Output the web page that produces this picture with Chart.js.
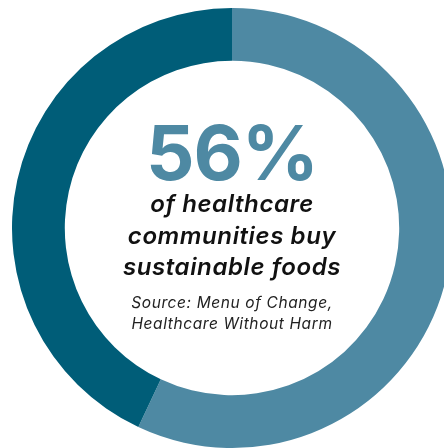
<!DOCTYPE html>
<html>
<head>
<meta charset="utf-8">
<script src="https://cdn.jsdelivr.net/npm/chart.js@4/dist/chart.umd.min.js"></script>
<style>
  html, body { margin: 0; padding: 0; background: #ffffff; width: 444px; height: 448px; overflow: hidden; position: relative; }
  #wrap { position: absolute; left: 12px; top: 8px; width: 440px; height: 440px; }
  .txt { position: absolute; left: 0; width: 464px; text-align: center; }
  #big { top: 107px; font-family: Inter, "Open Sans", sans-serif; font-weight: 700; font-size: 76px; color: #4e89a3; letter-spacing: -1px; line-height: 90px; }
  #desc { top: 188px; font-family: Inter, "Open Sans", sans-serif; font-weight: 600; font-style: italic; font-size: 24px; line-height: 31.5px; color: #111; letter-spacing: 0.6px; }
  #src { top: 292px; font-family: Inter, "Open Sans", sans-serif; font-style: italic; font-weight: 400; font-size: 15.5px; line-height: 21px; color: #222; letter-spacing: 0.6px; }
</style>
</head>
<body>
<div id="wrap"><canvas id="c"></canvas></div>
<div class="txt" id="big"></div>
<div class="txt" id="desc"></div>
<div class="txt" id="src"></div>
<script>
const categories = ["Buy sustainable foods", "Do not"];
const values = [57, 43];
const colors = ["#4e89a3", "#005d78"];
const headline = "56%";
const descriptionLines = ["of healthcare", "communities buy", "sustainable foods"];
const sourceLines = ["Source: Menu of Change,", "Healthcare Without Harm"];

document.getElementById("big").textContent = headline;
document.getElementById("desc").innerHTML = descriptionLines.join("<br>");
document.getElementById("src").innerHTML = sourceLines.join("<br>");

new Chart(document.getElementById("c"), {
  type: "doughnut",
  data: {
    labels: categories,
    datasets: [{
      data: values,
      backgroundColor: colors,
      borderWidth: 0,
      hoverOffset: 0
    }]
  },
  options: {
    responsive: true,
    maintainAspectRatio: false,
    animation: false,
    cutout: "76%",
    rotation: 0,
    layout: { padding: 0 },
    plugins: { legend: { display: false }, tooltip: { enabled: false } }
  }
});
</script>
</body>
</html>
